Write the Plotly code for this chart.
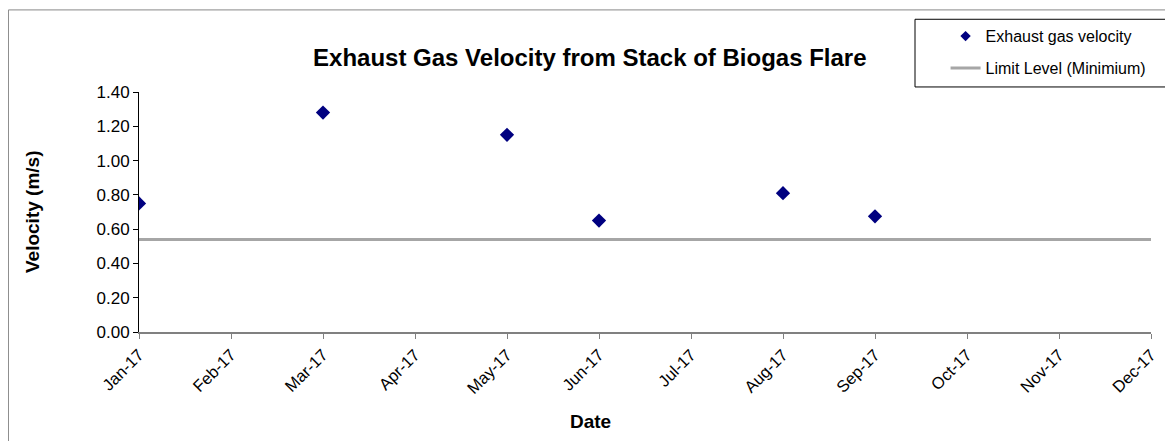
import plotly.graph_objects as go

# Chart data
MONTHS = ["Jan-17", "Feb-17", "Mar-17", "Apr-17", "May-17", "Jun-17",
          "Jul-17", "Aug-17", "Sep-17", "Oct-17", "Nov-17", "Dec-17"]
SAMPLE_MONTHS = ["Jan-17", "Mar-17", "May-17", "Jun-17", "Aug-17", "Sep-17"]
VELOCITY = [0.75, 1.28, 1.15, 0.65, 0.81, 0.675]
LIMIT_LEVEL = 0.54
Y_TICKS = [0.0, 0.2, 0.4, 0.6, 0.8, 1.0, 1.2, 1.4]

FONT = "Arial, Liberation Sans, sans-serif"
NAVY = '#000080'
GREY = '#A6A6A6'

fig = go.Figure()

# data traces (kept out of the legend, legend drawn with small symbols below)
fig.add_trace(go.Scatter(x=SAMPLE_MONTHS, y=VELOCITY, mode='markers', showlegend=False,
                         marker=dict(symbol='diamond', size=11, color=NAVY)))
fig.add_trace(go.Scatter(x=MONTHS, y=[LIMIT_LEVEL] * len(MONTHS), mode='lines', showlegend=False,
                         line=dict(color=GREY, width=3)))

# legend entries
fig.add_trace(go.Scatter(x=[None], y=[None], mode='markers', name='Exhaust gas velocity',
                         legendgroup='a', marker=dict(symbol='diamond', size=8, color=NAVY)))
fig.add_trace(go.Scatter(x=[None], y=[None], mode='lines', name='Limit Level (Minimium)',
                         legendgroup='b', line=dict(color=GREY, width=3)))

fig.update_xaxes(type='category', categoryorder='array', categoryarray=MONTHS,
                 range=[0, len(MONTHS) - 1], tickangle=-45,
                 showline=True, linecolor='#808080', linewidth=1.5,
                 ticks='outside', ticklen=5, tickcolor='#808080',
                 showgrid=False, zeroline=False,
                 tickfont=dict(family=FONT, size=16.5, color='black'))
fig.update_yaxes(range=[0, 1.4], tickvals=Y_TICKS, tickformat='.2f',
                 showline=True, linecolor='black', linewidth=1,
                 ticks='outside', ticklen=5, tickcolor='black',
                 showgrid=False, zeroline=False,
                 tickfont=dict(family=FONT, size=17, color='black'))

# axis titles
fig.add_annotation(text='<b>Date</b>', xref='paper', yref='paper', x=0.4457, y=-0.373,
                   xanchor='center', yanchor='middle',
                   showarrow=False, font=dict(family=FONT, size=19, color='black'))
fig.add_annotation(text='<b>Velocity (m/s)</b>', xref='paper', yref='paper', x=-0.1057, y=0.5,
                   xanchor='center', yanchor='middle', textangle=-90,
                   showarrow=False, font=dict(family=FONT, size=19, color='black'))

# outer chart border and legend box
fig.add_shape(type='rect', xref='paper', yref='paper', x0=-0.129, x1=1.1, y0=-0.6, y1=1.342,
              line=dict(color='#888888', width=1), layer='below')
fig.add_shape(type='rect', xref='paper', yref='paper', x0=0.7668, x1=1.0208, y0=1.021, y1=1.303,
              line=dict(color='black', width=1), fillcolor='white', layer='below')

fig.update_layout(
    width=1173, height=441,
    margin=dict(l=131, r=30, t=83, b=117),
    paper_bgcolor='white', plot_bgcolor='white',
    title=dict(text='<b>Exhaust Gas Velocity from Stack of Biogas Flare</b>',
               x=0.496, xanchor='center', y=1 - 50 / 441, yanchor='middle',
               font=dict(family=FONT, size=24, color='black')),
    legend=dict(x=0.797, y=1.298, xanchor='left', yanchor='top',
                bgcolor='rgba(0,0,0,0)', borderwidth=0,
                font=dict(family=FONT, size=16, color='black'),
                traceorder='grouped', tracegroupgap=8),
    showlegend=True,
)

fig.write_html("out.html")
